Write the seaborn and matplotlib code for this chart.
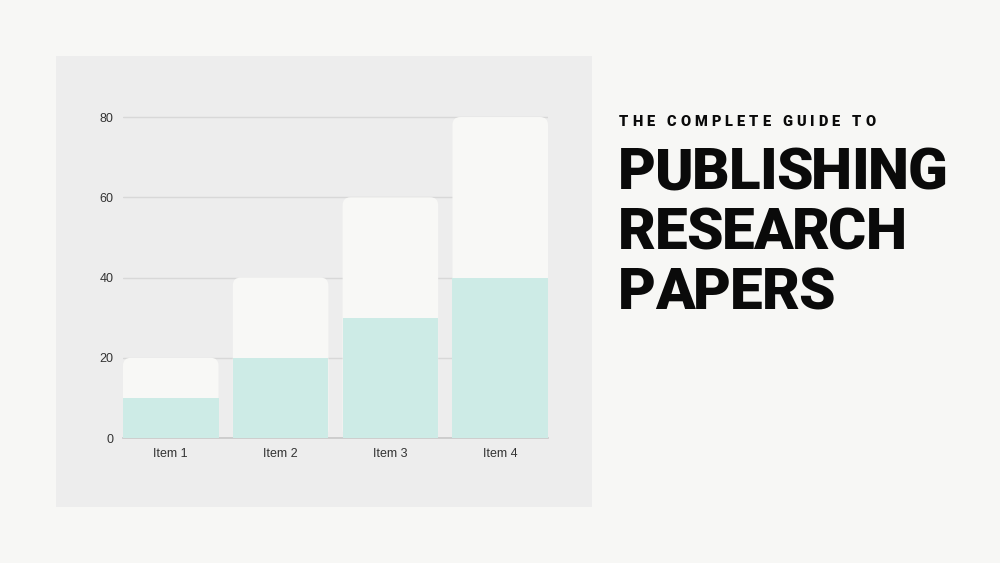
import numpy as np
import pandas as pd
import matplotlib
matplotlib.use("Agg")
import matplotlib.pyplot as plt
from matplotlib.patches import FancyBboxPatch, Rectangle
import seaborn as sns

# chart data
items = ["Item 1", "Item 2", "Item 3", "Item 4"]
lower = [10, 20, 30, 40]
upper = [10, 20, 30, 40]
y_ticks = [0, 20, 40, 60, 80]

kicker = "THE COMPLETE GUIDE TO"
headline = ["PUBLISHING", "RESEARCH", "PAPERS"]

BG = "#f7f7f5"
PANEL = "#ededed"
TEAL = "#cdebe6"
WHITE = "#f8f8f6"

df = pd.DataFrame({"item": items, "lower": lower,
                   "total": np.array(lower) + np.array(upper)})

sns.set_style("white")
plt.rcParams["font.family"] = ["Liberation Sans", "DejaVu Sans"]

fig = plt.figure(figsize=(10, 5.63), dpi=100)
fig.patch.set_facecolor(BG)

# grey card behind the chart
fig.patches.append(Rectangle((0.056, 1 - 0.507 / 0.563), 0.536, 0.451 / 0.563,
                             transform=fig.transFigure, facecolor=PANEL,
                             edgecolor="none", zorder=-5))

ax = fig.add_axes([0.123, 0.222, 0.425, 0.5737])
ax.set_zorder(2)
ax.set_facecolor("none")

bar_w = 0.87
sns.barplot(data=df, x="item", y="total", color=WHITE, width=bar_w,
            saturation=1, linewidth=0, ax=ax, zorder=3)
n_top = len(ax.patches)
sns.barplot(data=df, x="item", y="lower", color=TEAL, width=bar_w,
            saturation=1, linewidth=0, ax=ax, zorder=4)

ax.set_xlim(-bar_w / 2, len(items) - 1 + bar_w / 2)
ax.set_ylim(0, 80.5)

# swap the white bars for ones with rounded top corners
px_x = 0.425 * 1000 / (len(items) - 1 + bar_w)
px_y = 0.5737 * 563 / 80.5
r = 8 / px_x
for p in list(ax.patches[:n_top]):
    x0, w, h = p.get_x(), p.get_width(), p.get_height()
    p.set_visible(False)
    ax.add_patch(FancyBboxPatch((x0, 0), w, h,
                                boxstyle=f"round,pad=0,rounding_size={r}",
                                mutation_aspect=px_x / px_y,
                                facecolor=WHITE, edgecolor="none",
                                linewidth=0, zorder=3))

# horizontal grid lines sitting behind the bars
ax.set_yticks(y_ticks)
ax.yaxis.grid(True, color="#d8d8d8", linewidth=1)
ax.set_axisbelow(True)
for s in ["top", "right", "left"]:
    ax.spines[s].set_visible(False)
ax.spines["bottom"].set_color("#c8c8c8")
ax.spines["bottom"].set_linewidth(1.2)
ax.spines["bottom"].set_zorder(1)
ax.tick_params(axis="both", length=0, labelsize=9, colors="#333333")
ax.tick_params(axis="y", pad=7)
ax.tick_params(axis="x", pad=7)
ax.set_xlabel("")
ax.set_ylabel("")

# title block on the right
fig.canvas.draw()
renderer = fig.canvas.get_renderer()


def spaced_text(x_px, y_px, text, size, tracking_px):
    x = x_px
    for ch in text:
        t = fig.text(x / 1000, 1 - y_px / 563, ch, fontsize=size,
                     fontweight="black", family=["Roboto", "DejaVu Sans"],
                     color="#0a0a0a", va="baseline", ha="left")
        w = t.get_window_extent(renderer).width
        if ch == " ":
            w = size * 0.4
        x += w + tracking_px


spaced_text(619, 126, kicker, 10.5, 4.0)
for i, line in enumerate(headline):
    spaced_text(618, 189 + i * 60, line, 42, -1.2)

fig.savefig("out.png", dpi=100, facecolor=BG)
